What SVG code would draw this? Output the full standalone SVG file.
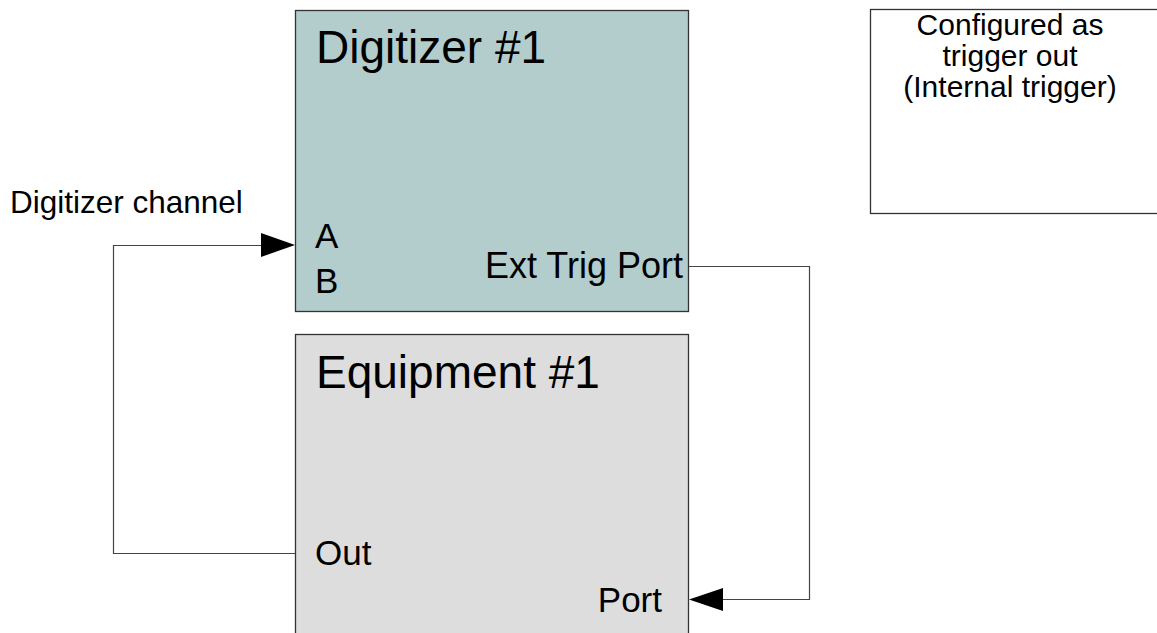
<svg xmlns="http://www.w3.org/2000/svg" width="1157" height="633" viewBox="0 0 1157 633">
<style>
text{font-family:"Liberation Sans",Arial,sans-serif;fill:#000}
.box{stroke:#333;stroke-width:1.3}
.title{font-size:46px}
.port{font-size:35px}
.note{font-size:30px}
.wire{fill:none;stroke:#444;stroke-width:1.2}
</style>
<rect width="1157" height="633" fill="#fff"/>
<g id="digitizer">
<rect class="box" x="295.5" y="10.5" width="393" height="301" fill="#b3cccc"/>
<text class="title" x="316" y="63">Digitizer #1</text>
<text class="port" x="315" y="248">A</text>
<text class="port" x="315" y="293">B</text>
<text class="port" x="683" y="278" text-anchor="end" style="font-size:36px">Ext Trig Port</text>
</g>
<g id="equipment">
<rect class="box" x="295.5" y="334.5" width="393" height="320" fill="#dddddd"/>
<text class="title" x="316" y="388">Equipment #1</text>
<text class="port" x="315" y="565">Out</text>
<text class="port" x="662" y="612" text-anchor="end">Port</text>
</g>
<g id="note">
<rect class="box" x="870.5" y="9.5" width="320" height="204" fill="#fff"/>
<text class="note" x="1010" y="35" text-anchor="middle">Configured as</text>
<text class="note" x="1010" y="66" text-anchor="middle">trigger out</text>
<text class="note" x="1010" y="97" text-anchor="middle">(Internal trigger)</text>
</g>
<g id="label">
<text class="note" x="10" y="213" style="font-size:31.5px">Digitizer channel</text>
</g>
<g id="connectors">
<polyline class="wire" points="295,553.5 113.5,553.5 113.5,245.5 262,245.5"/>
<polygon points="295,245 261,233 261,257" fill="#000"/>
<polyline class="wire" points="689,266.5 809.5,266.5 809.5,599.5 722,599.5"/>
<polygon points="689,599.5 723,588 723,611" fill="#000"/>
</g>
</svg>
